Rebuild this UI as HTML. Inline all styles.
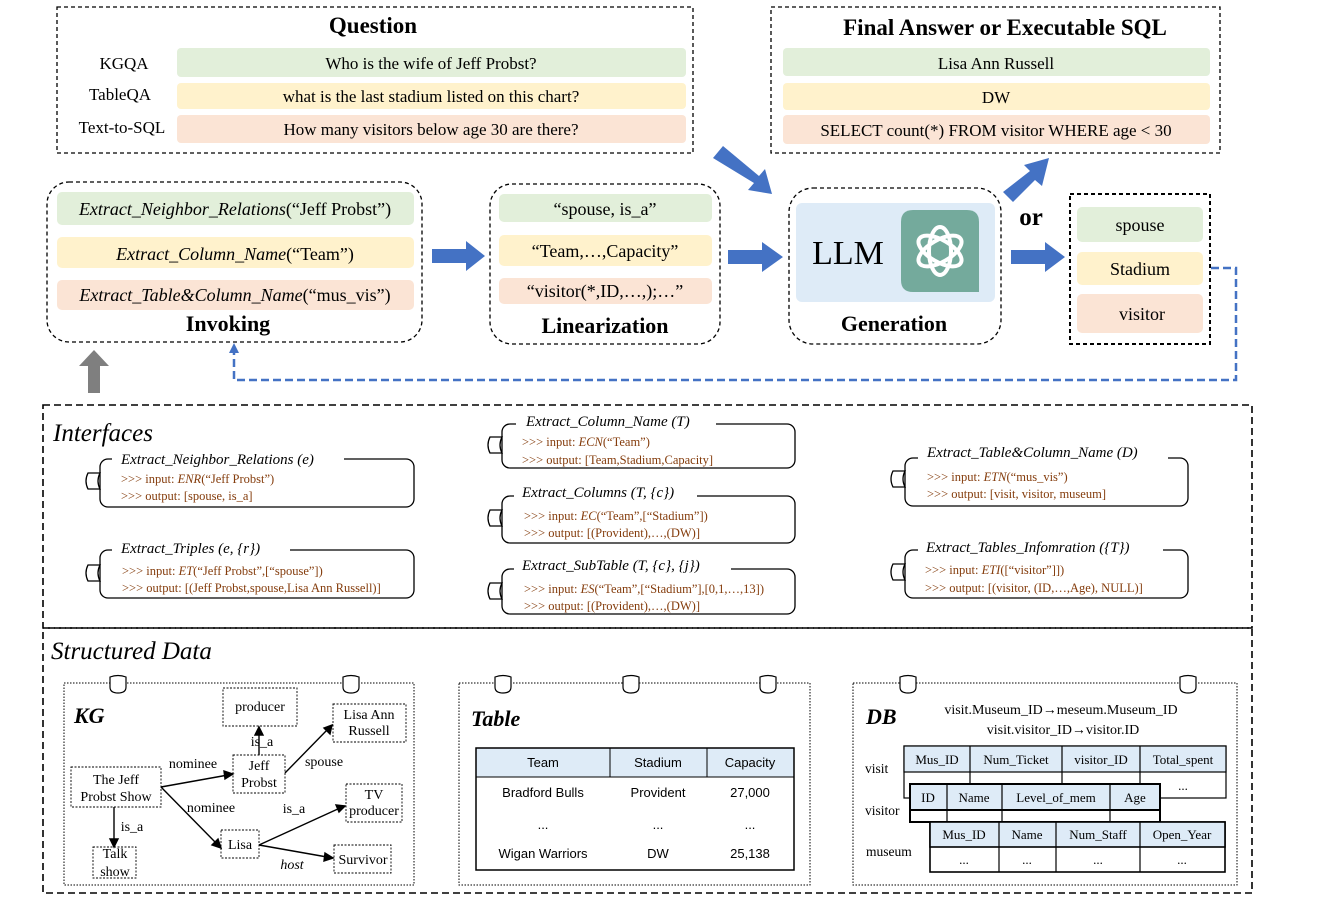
<!DOCTYPE html>
<html><head><meta charset="utf-8"><style>
html,body{margin:0;padding:0;background:#fff}
svg{display:block}
text{font-family:"Liberation Serif",serif;fill:#000}
.b{font-weight:bold}
.i{font-style:italic}
.br{fill:#843c0c;font-size:12.5px}
.ct{font-size:15px;font-style:italic}
.sans{font-family:"Liberation Sans",sans-serif;font-size:13px}
</style></head><body>
<svg width="1325" height="914" viewBox="0 0 1325 914" xmlns="http://www.w3.org/2000/svg">
<!-- Question box -->
<rect x="57" y="7" width="636" height="146" fill="none" stroke="#000" stroke-dasharray="4,3" stroke-width="1.3"/>
<text x="373" y="33" font-size="23" class="b" text-anchor="middle">Question</text>
<text x="124" y="69" font-size="17" text-anchor="middle">KGQA</text>
<text x="120" y="100" font-size="17" text-anchor="middle">TableQA</text>
<text x="122" y="133" font-size="17" text-anchor="middle">Text-to-SQL</text>
<rect x="177" y="48" width="509" height="29" rx="4" fill="#e2efda"/>
<rect x="177" y="83" width="509" height="26" rx="4" fill="#fff2cc"/>
<rect x="177" y="115" width="509" height="28" rx="4" fill="#fbe4d5"/>
<text x="431" y="69" font-size="17" text-anchor="middle">Who is the wife of Jeff Probst?</text>
<text x="431" y="102" font-size="17" text-anchor="middle">what is the last stadium listed on this chart?</text>
<text x="431" y="135" font-size="17" text-anchor="middle">How many visitors below age 30 are there?</text>

<!-- Final answer box -->
<rect x="771" y="7" width="449" height="146" fill="none" stroke="#000" stroke-dasharray="4,3" stroke-width="1.3"/>
<text x="1005" y="35" font-size="23" class="b" text-anchor="middle">Final Answer or Executable SQL</text>
<rect x="783" y="48" width="427" height="28" rx="4" fill="#e2efda"/>
<rect x="783" y="83" width="427" height="27" rx="4" fill="#fff2cc"/>
<rect x="783" y="115" width="427" height="29" rx="4" fill="#fbe4d5"/>
<text x="996" y="69" font-size="17" text-anchor="middle">Lisa Ann Russell</text>
<text x="996" y="103" font-size="17" text-anchor="middle">DW</text>
<text x="996" y="136" font-size="17" text-anchor="middle">SELECT count(*) FROM visitor WHERE age &lt; 30</text>

<!-- Invoking -->
<rect x="47" y="182" width="375" height="160" rx="22" fill="none" stroke="#000" stroke-dasharray="4,3" stroke-width="1.3"/>
<rect x="57" y="192" width="357" height="33" rx="5" fill="#e2efda"/>
<rect x="57" y="237" width="357" height="31" rx="5" fill="#fff2cc"/>
<rect x="57" y="280" width="357" height="30" rx="5" fill="#fbe4d5"/>
<text x="235" y="215" font-size="18" text-anchor="middle"><tspan class="i">Extract_Neighbor_Relations</tspan>(“Jeff Probst”)</text>
<text x="235" y="260" font-size="18" text-anchor="middle"><tspan class="i">Extract_Column_Name</tspan>(“Team”)</text>
<text x="235" y="301" font-size="18" text-anchor="middle"><tspan class="i">Extract_Table&amp;Column_Name</tspan>(“mus_vis”)</text>
<text x="228" y="331" font-size="22" class="b" text-anchor="middle">Invoking</text>

<!-- Linearization -->
<rect x="490" y="184" width="230" height="160" rx="22" fill="none" stroke="#000" stroke-dasharray="4,3" stroke-width="1.3"/>
<rect x="499" y="194" width="213" height="28" rx="5" fill="#e2efda"/>
<rect x="499" y="235" width="213" height="31" rx="5" fill="#fff2cc"/>
<rect x="499" y="278" width="213" height="26" rx="5" fill="#fbe4d5"/>
<text x="605" y="215" font-size="18" text-anchor="middle">“spouse, is_a”</text>
<text x="605" y="257" font-size="18" text-anchor="middle">“Team,…,Capacity”</text>
<text x="605" y="297" font-size="18" text-anchor="middle">“visitor(*,ID,…,);…”</text>
<text x="605" y="333" font-size="22" class="b" text-anchor="middle">Linearization</text>

<!-- Generation -->
<rect x="789" y="188" width="212" height="156" rx="24" fill="none" stroke="#000" stroke-dasharray="4,3" stroke-width="1.3"/>
<rect x="796" y="203" width="199" height="99" rx="6" fill="#deebf7"/>
<text x="848" y="264" font-size="34" text-anchor="middle">LLM</text>
<path d="M901,222 q0,-12 12,-12 h54 q12,0 12,12 v70 h-66 q-12,0 -12,-12z" fill="#74aa9c"/>
<g fill="none" stroke="#fff" stroke-width="4" transform="translate(940,251)">
<ellipse rx="11" ry="24" transform="rotate(0)"/>
<ellipse rx="11" ry="24" transform="rotate(60)"/>
<ellipse rx="11" ry="24" transform="rotate(120)"/>
</g>
<text x="894" y="331" font-size="22" class="b" text-anchor="middle">Generation</text>

<text x="1031" y="225" font-size="25" class="b" text-anchor="middle">or</text>

<!-- Output box -->
<rect x="1070" y="194" width="140" height="150" fill="none" stroke="#000" stroke-dasharray="4,3" stroke-width="2"/>
<rect x="1077" y="207" width="126" height="35" rx="5" fill="#e2efda"/>
<rect x="1077" y="252" width="126" height="33" rx="5" fill="#fff2cc"/>
<rect x="1077" y="294" width="126" height="39" rx="5" fill="#fbe4d5"/>
<text x="1140" y="231" font-size="18" text-anchor="middle">spouse</text>
<text x="1140" y="275" font-size="18" text-anchor="middle">Stadium</text>
<text x="1142" y="320" font-size="18" text-anchor="middle">visitor</text>

<!-- blue arrows -->
<g fill="#4472c4">
<polygon points="432,249 466,249 466,241 485,256 466,271 466,263 432,263"/>
<polygon points="728,250 762,250 762,242 783,257 762,272 762,264 728,264"/>
<polygon points="1011,250 1045,250 1045,242 1065,257 1045,272 1045,264 1011,264"/>
<polygon points="713,158 723,146 759,176 765,169 772,194 748,190 754,183"/>
<polygon points="1003,192 1013,202 1035,180 1042,186 1049,158 1024,165 1030,171"/>
</g>
<path d="M1211,268 H1236 V380 H234 V352" fill="none" stroke="#4472c4" stroke-width="2.5" stroke-dasharray="8,4"/>
<polygon points="234,343 229,353 239,353" fill="#4472c4"/>
<!-- gray arrow -->
<polygon points="88,393 100,393 100,366 109,366 94,350 79,366 88,366" fill="#7f7f7f"/>

<!-- Interfaces box -->
<rect x="43" y="405" width="1209" height="223" fill="none" stroke="#000" stroke-dasharray="7,4" stroke-width="1.6"/>
<text x="53" y="441" font-size="25" class="i">Interfaces</text>
<rect x="43" y="628" width="1209" height="265" fill="none" stroke="#000" stroke-dasharray="7,4" stroke-width="1.6"/>
<text x="51" y="659" font-size="25" class="i">Structured Data</text>

<g fill="#fff" stroke="#000" stroke-width="1.3">
<!-- cards -->
<rect x="100" y="459" width="314" height="48" rx="8"/>
<rect x="100" y="550" width="314" height="48" rx="8"/>
<rect x="502" y="424" width="293" height="44" rx="8"/>
<rect x="502" y="496" width="293" height="47" rx="8"/>
<rect x="502" y="569" width="293" height="45" rx="8"/>
<rect x="905" y="458" width="283" height="48" rx="8"/>
<rect x="905" y="550" width="283" height="48" rx="8"/>
<path d="M100,473 h-12 q-4,8 0,16 h12 q-4,-8 0,-16z"/>
<path d="M100,565 h-12 q-4,8 0,16 h12 q-4,-8 0,-16z"/>
<path d="M502,437 h-12 q-4,8 0,16 h12 q-4,-8 0,-16z"/>
<path d="M502,510 h-12 q-4,8 0,16 h12 q-4,-8 0,-16z"/>
<path d="M502,583 h-12 q-4,8 0,16 h12 q-4,-8 0,-16z"/>
<path d="M905,471 h-12 q-4,8 0,16 h12 q-4,-8 0,-16z"/>
<path d="M905,564 h-12 q-4,8 0,16 h12 q-4,-8 0,-16z"/>
</g>
<g fill="#fff">
<rect x="112" y="452" width="232" height="12"/>
<rect x="112" y="543" width="178" height="12"/>
<rect x="516" y="417" width="200" height="12"/>
<rect x="514" y="489" width="183" height="12"/>
<rect x="514" y="562" width="217" height="12"/>
<rect x="918" y="451" width="250" height="12"/>
<rect x="918" y="543" width="245" height="12"/>
</g>
<text x="121" y="464" class="ct">Extract_Neighbor_Relations (e)</text>
<text x="121" y="483" class="br">&gt;&gt;&gt; input: <tspan class="i">ENR</tspan>(“Jeff Probst”)</text>
<text x="121" y="500" class="br">&gt;&gt;&gt; output: [spouse, is_a]</text>
<text x="121" y="553" class="ct">Extract_Triples (e, {r})</text>
<text x="122" y="575" class="br">&gt;&gt;&gt; input: <tspan class="i">ET</tspan>(“Jeff Probst”,[“spouse”])</text>
<text x="122" y="592" class="br">&gt;&gt;&gt; output: [(Jeff Probst,spouse,Lisa Ann Russell)]</text>
<text x="526" y="426" class="ct">Extract_Column_Name (T)</text>
<text x="522" y="446" class="br">&gt;&gt;&gt; input: <tspan class="i">ECN</tspan>(“Team”)</text>
<text x="522" y="464" class="br">&gt;&gt;&gt; output: [Team,Stadium,Capacity]</text>
<text x="522" y="497" class="ct">Extract_Columns (T, {c})</text>
<text x="524" y="520" class="br">&gt;&gt;&gt; input: <tspan class="i">EC</tspan>(“Team”,[“Stadium”])</text>
<text x="524" y="537" class="br">&gt;&gt;&gt; output: [(Provident),…,(DW)]</text>
<text x="522" y="570" class="ct">Extract_SubTable (T, {c}, {j})</text>
<text x="524" y="593" class="br">&gt;&gt;&gt; input: <tspan class="i">ES</tspan>(“Team”,[“Stadium”],[0,1,…,13])</text>
<text x="524" y="610" class="br">&gt;&gt;&gt; output: [(Provident),…,(DW)]</text>
<text x="927" y="457" class="ct">Extract_Table&amp;Column_Name (D)</text>
<text x="927" y="481" class="br">&gt;&gt;&gt; input: <tspan class="i">ETN</tspan>(“mus_vis”)</text>
<text x="927" y="498" class="br">&gt;&gt;&gt; output: [visit, visitor, museum]</text>
<text x="926" y="552" class="ct">Extract_Tables_Infomration ({T})</text>
<text x="925" y="574" class="br">&gt;&gt;&gt; input: <tspan class="i">ETI</tspan>([“visitor”]])</text>
<text x="925" y="592" class="br">&gt;&gt;&gt; output: [(visitor, (ID,…,Age), NULL)]</text>

<!-- Structured data panels -->
<g fill="none" stroke="#000" stroke-width="1" stroke-dasharray="1.5,1.5">
<rect x="64" y="683" width="350" height="202"/>
<rect x="459" y="683" width="351" height="202"/>
<rect x="853" y="683" width="384" height="202"/>
</g>
<g fill="#fff" stroke="#000" stroke-width="1.2">
<path d="M110,677 v10 q0,6 8,6 q8,0 8,-6 v-10 q-8,-3 -16,0z"/>
<path d="M343,677 v10 q0,6 8,6 q8,0 8,-6 v-10 q-8,-3 -16,0z"/>
<path d="M495,677 v10 q0,6 8,6 q8,0 8,-6 v-10 q-8,-3 -16,0z"/>
<path d="M623,677 v10 q0,6 8,6 q8,0 8,-6 v-10 q-8,-3 -16,0z"/>
<path d="M760,677 v10 q0,6 8,6 q8,0 8,-6 v-10 q-8,-3 -16,0z"/>
<path d="M900,677 v10 q0,6 8,6 q8,0 8,-6 v-10 q-8,-3 -16,0z"/>
<path d="M1180,677 v10 q0,6 8,6 q8,0 8,-6 v-10 q-8,-3 -16,0z"/>
</g>

<!-- KG -->
<text x="74" y="723" font-size="22" class="b i">KG</text>
<g fill="none" stroke="#000" stroke-width="0.9" stroke-dasharray="2,1.5">
<rect x="223" y="688" width="74" height="38"/>
<rect x="333" y="704" width="73" height="38"/>
<rect x="71" y="767" width="90" height="40"/>
<rect x="233" y="755" width="52" height="38"/>
<rect x="346" y="784" width="56" height="38"/>
<rect x="221" y="830" width="38" height="28"/>
<rect x="334" y="845" width="57" height="28"/>
<rect x="93" y="847" width="43" height="31"/>
</g>
<g font-size="14" text-anchor="middle">
<text x="260" y="711">producer</text>
<text x="369" y="719">Lisa Ann</text><text x="369" y="735">Russell</text>
<text x="116" y="784">The Jeff</text><text x="116" y="801">Probst Show</text>
<text x="259" y="770">Jeff</text><text x="259" y="787">Probst</text>
<text x="374" y="799">TV</text><text x="374" y="815">producer</text>
<text x="240" y="849">Lisa</text>
<text x="363" y="864">Survivor</text>
<text x="115" y="858">Talk</text><text x="115" y="876">show</text>
<text x="193" y="768">nominee</text>
<text x="211" y="812">nominee</text>
<text x="262" y="746">is_a</text>
<text x="324" y="766">spouse</text>
<text x="294" y="813">is_a</text>
<text x="292" y="869" class="i">host</text>
<text x="132" y="831">is_a</text>
</g>
<g stroke="#000" stroke-width="1.4" fill="#000">
<line x1="161" y1="787" x2="228" y2="775"/><polygon points="233,774 224,771 225,779"/>
<line x1="161" y1="787" x2="216" y2="843"/><polygon points="221,848 218,839 212,845"/>
<line x1="259" y1="755" x2="259" y2="733"/><polygon points="259,727 255,735 263,735"/>
<line x1="285" y1="773" x2="328" y2="729"/><polygon points="332,725 324,728 330,734"/>
<line x1="259" y1="845" x2="340" y2="808"/><polygon points="345,806 336,805 339,812"/>
<line x1="259" y1="845" x2="327" y2="857"/><polygon points="333,858 325,853 324,861"/>
<line x1="114" y1="807" x2="114" y2="841"/><polygon points="114,847 110,839 118,839"/>
</g>

<!-- Table -->
<text x="471" y="726" font-size="22" class="b i">Table</text>
<rect x="476" y="748" width="318" height="29" fill="#deebf7"/>
<rect x="476" y="748" width="318" height="122" fill="none" stroke="#000" stroke-width="1.5"/>
<line x1="476" y1="777" x2="794" y2="777" stroke="#000" stroke-width="1"/>
<line x1="610" y1="748" x2="610" y2="777" stroke="#000"/>
<line x1="707" y1="748" x2="707" y2="777" stroke="#000"/>
<g class="sans" text-anchor="middle">
<text x="543" y="767" class="sans">Team</text><text x="658" y="767" class="sans">Stadium</text><text x="750" y="767" class="sans">Capacity</text>
<text x="543" y="797" class="sans">Bradford Bulls</text><text x="658" y="797" class="sans">Provident</text><text x="750" y="797" class="sans">27,000</text>
<text x="543" y="829" class="sans">...</text><text x="658" y="829" class="sans">...</text><text x="750" y="829" class="sans">...</text>
<text x="543" y="858" class="sans">Wigan Warriors</text><text x="658" y="858" class="sans">DW</text><text x="750" y="858" class="sans">25,138</text>
</g>

<!-- DB -->
<text x="866" y="724" font-size="22" class="b i">DB</text>
<text x="1061" y="714" font-size="14" text-anchor="middle">visit.Museum_ID→meseum.Museum_ID</text>
<text x="1063" y="734" font-size="14" text-anchor="middle">visit.visitor_ID→visitor.ID</text>
<g font-size="13.5">
<text x="865" y="773">visit</text>
<text x="865" y="815">visitor</text>
<text x="866" y="856">museum</text>
</g>
<g stroke="#000" stroke-width="1.2">
<rect x="904" y="746" width="322" height="52" fill="#fff"/>
<rect x="904" y="746" width="322" height="26" fill="#deebf7"/>
<line x1="970" y1="746" x2="970" y2="798"/><line x1="1062" y1="746" x2="1062" y2="798"/><line x1="1140" y1="746" x2="1140" y2="798"/>
<rect x="910" y="784" width="250" height="38" fill="#fff" stroke-width="2"/>
<rect x="910" y="784" width="250" height="26" fill="#deebf7" stroke-width="2"/>
<line x1="947" y1="784" x2="947" y2="822"/><line x1="1002" y1="784" x2="1002" y2="822"/><line x1="1110" y1="784" x2="1110" y2="822"/>
<rect x="930" y="822" width="295" height="50" fill="#fff" stroke-width="1.6"/>
<rect x="930" y="822" width="295" height="25" fill="#deebf7" stroke-width="1.6"/>
<line x1="999" y1="822" x2="999" y2="872"/><line x1="1056" y1="822" x2="1056" y2="872"/><line x1="1140" y1="822" x2="1140" y2="872"/>
</g>
<g font-size="13" text-anchor="middle">
<text x="937" y="764">Mus_ID</text><text x="1016" y="764">Num_Ticket</text><text x="1101" y="764">visitor_ID</text><text x="1183" y="764">Total_spent</text>
<text x="1183" y="790">...</text>
<text x="928" y="802">ID</text><text x="974" y="802">Name</text><text x="1056" y="802">Level_of_mem</text><text x="1135" y="802">Age</text>
<text x="964" y="839">Mus_ID</text><text x="1027" y="839">Name</text><text x="1098" y="839">Num_Staff</text><text x="1182" y="839">Open_Year</text>
<text x="964" y="864">...</text><text x="1027" y="864">...</text><text x="1098" y="864">...</text><text x="1182" y="864">...</text>
</g>
</svg>
</body></html>
